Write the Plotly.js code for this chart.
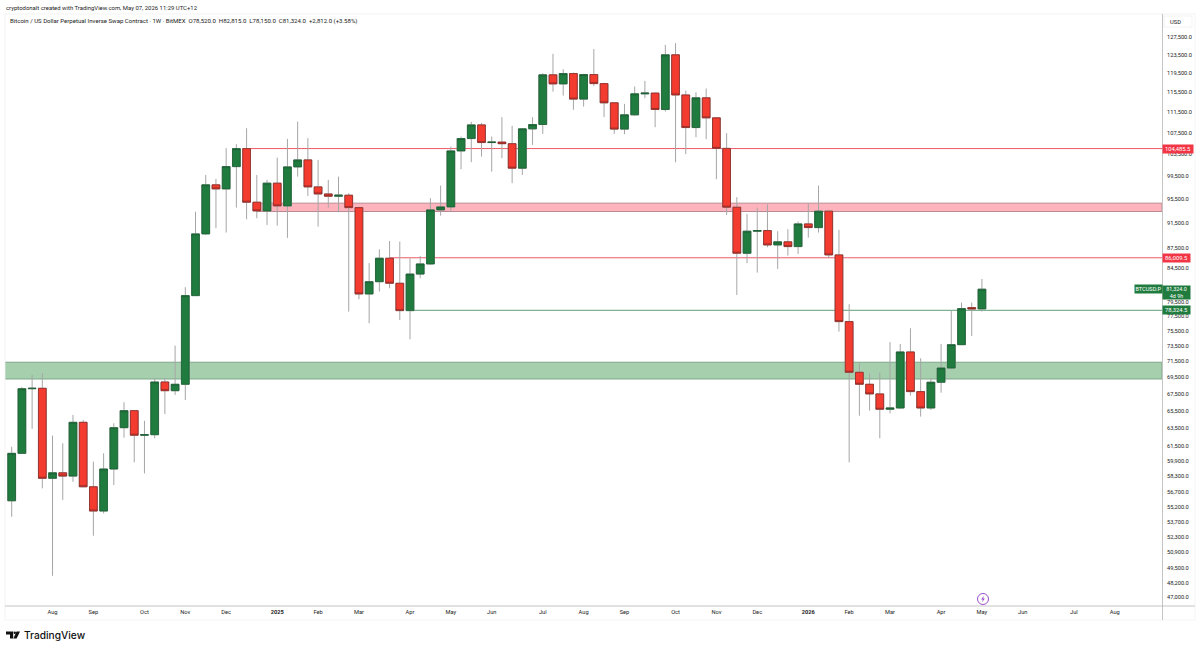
<!DOCTYPE html>
<html>
<head>
<meta charset="utf-8">
<script src="https://cdn.plot.ly/plotly-3.0.1.min.js"></script>
<style>html,body{margin:0;padding:0;background:#fff}#c{width:1200px;height:650px}</style>
</head>
<body>
<div id="c"></div>
<script>
var startDate = '2024-07-08';
var open = [55780,60700,68110,68160,58060,58630,58290,64150,57190,54770,59030,63540,65500,62690,62750,68930,67870,68650,80400,89750,97940,97240,101180,104480,94960,93500,98240,94340,101130,102400,97590,96370,95980,96150,94050,80640,82420,85940,82190,78280,83550,85070,93670,94170,104050,106370,108990,105610,105700,105400,100900,108220,109060,119150,117250,119430,114110,119220,117310,113360,108170,110960,115190,115340,112020,123480,114960,108470,114370,110360,104520,94120,86710,90180,90280,88000,88480,87740,91360,90760,93460,86450,76760,70130,68650,67480,65660,65810,72720,67760,65810,68900,70670,73670,78700,78520];
var high = [61420,68320,69800,70050,62650,61800,64990,64420,59810,60710,64040,66490,65580,64330,69430,69430,73540,81610,93380,99690,98990,104560,105310,108350,99690,98820,102820,106300,109630,106440,102400,98820,99390,96500,94170,85190,87330,88630,88520,85940,86290,95640,97820,104860,106750,109580,109380,106750,110500,108800,108410,110500,119510,123700,120350,119640,119370,124760,117460,113420,113150,116700,117880,115400,125690,126090,115860,115500,116280,110500,107390,95810,93000,94050,94600,90180,90500,91740,94790,97820,93500,90390,79180,71270,70010,70090,74010,73770,75860,71910,69390,73770,78240,79410,79410,82815];
var low = [54220,60650,63400,57030,48800,55850,57700,57130,52410,54540,57360,62420,59740,58570,62350,65110,67360,66760,89590,89590,90660,89960,94050,92120,92280,91190,91080,89110,99390,96030,90920,94050,93280,78140,79880,76550,80980,81460,76990,74380,82930,84950,92710,93380,100710,101980,103000,100280,102710,98240,99690,105170,107260,115650,114830,111950,112610,116830,110500,107260,107200,110760,114310,108540,111610,101980,103450,106630,106250,98930,92830,80490,85180,83760,87640,84320,86340,86600,89160,89960,85940,75400,59740,64910,65500,62350,65190,65700,67280,64800,65580,67630,70510,73670,74820,78150];
var close = [60700,68110,68160,58060,58630,58290,64150,57190,54770,59030,63540,65500,62690,62750,68930,67870,68650,80400,89750,97940,97240,101180,104480,94960,93500,98240,94340,101130,102400,97590,96370,95980,96150,94050,80640,82420,85940,82190,78280,83550,85070,93670,94170,104050,106370,108990,105610,105700,105400,100900,108220,109060,119150,117250,119430,114110,119220,117310,113360,108170,110960,115190,115340,112020,123480,114960,108470,114370,110360,104520,94120,86710,90180,90280,88000,88480,87740,91360,90760,93460,86450,76760,70130,68650,67480,65660,65810,72720,67760,65810,68900,70670,73670,78560,78512,81324];

var priceTicks = [127500,123500,119500,115500,111500,107500,103500,99500,95500,91500,87500,84500,79500,77500,75500,73500,71500,69500,67500,65500,63500,61500,59900,58300,56700,55200,53700,52300,50900,49500,48200,47000];
var timeTickDates = ['2024-08-05','2024-09-02','2024-10-07','2024-11-04','2024-12-02','2025-01-06','2025-02-03','2025-03-03','2025-04-07','2025-05-05','2025-06-02','2025-07-07','2025-08-04','2025-09-01','2025-10-06','2025-11-03','2025-12-01','2026-01-05','2026-02-02','2026-03-02','2026-04-06','2026-05-04','2026-06-01','2026-07-06','2026-08-03'];
var timeTickLabels = ['Aug','Sep','Oct','Nov','Dec','<b>2025</b>','Feb','Mar','Apr','May','Jun','Jul','Aug','Sep','Oct','Nov','Dec','<b>2026</b>','Feb','Mar','Apr','May','Jun','Jul','Aug'];

var levelValues = [104485.5,86009.5,78324.5];
var levelStarts = ['2024-12-16','2025-03-24','2025-04-07'];
var levelColors = ['#ee5a68','#ee5a68','#5f9f74'];
var zoneLows = [93400,69300];
var zoneHighs = [94800,71400];
var zoneStarts = ['2024-12-23','2024-07-03'];
var zoneFills = ['#ffb3bd','#a6cfae'];
var zoneEdges = ['#b98a92','#7ea78b'];

var rangeStart = '2024-07-03 10:00';
var rangeEnd = '2026-09-04 10:00';
var FONT = 'Roboto, "Open Sans", sans-serif';
var UP = '#1f7b3e', DOWN = '#f43b30';

var dates = open.map(function(_, i){
  var d = new Date(startDate + 'T00:00:00Z');
  d.setUTCDate(d.getUTCDate() + 7 * i);
  return d.toISOString().slice(0, 10);
});
var top_ = open.map(function(o, i){ return Math.max(o, close[i]); });
var bot_ = open.map(function(o, i){ return Math.min(o, close[i]); });

var wicks = {
  type: 'candlestick', x: dates, open: open, high: high, low: low, close: close,
  whiskerwidth: 0, hoverinfo: 'skip', showlegend: false,
  increasing: {line: {color: '#a6a6a6', width: 1}, fillcolor: '#a6a6a6'},
  decreasing: {line: {color: '#a6a6a6', width: 1}, fillcolor: '#a6a6a6'}
};
var bodies = {
  type: 'candlestick', x: dates, open: open, high: top_, low: bot_, close: close,
  whiskerwidth: 0, showlegend: false,
  increasing: {line: {color: '#1d5f35', width: 0.8}, fillcolor: UP},
  decreasing: {line: {color: '#8a2a24', width: 0.8}, fillcolor: DOWN}
};

function px(x){ return (x - 5) / 1157; }
function py(y){ return (606 - y) / 592; }
function rectPaper(x0, y0, x1, y1, fill, edge){
  return {type:'rect', xref:'paper', yref:'paper', x0:px(x0), x1:px(x1), y0:py(y0), y1:py(y1),
    fillcolor:fill, line:{color:edge||fill, width:edge?0.8:0}, layer:'above'};
}
function linePaper(x0, y0, x1, y1, c, w){
  return {type:'line', xref:'paper', yref:'paper', x0:px(x0), x1:px(x1), y0:py(y0), y1:py(y1),
    line:{color:c, width:w||1}, layer:'above'};
}
function pathPaper(pts, fill){
  var s = pts.map(function(p, i){ return (i ? 'L' : 'M') + px(p[0]) + ',' + py(p[1]); }).join(' ') + ' Z';
  return {type:'path', xref:'paper', yref:'paper', path:s, fillcolor:fill, line:{width:0}, layer:'above'};
}

var shapes = [];
zoneLows.forEach(function(v, i){
  shapes.push({type:'rect', xref:'x', yref:'y', x0:zoneStarts[i], x1:rangeEnd, y0:v, y1:zoneHighs[i],
    fillcolor:zoneFills[i], line:{color:zoneEdges[i], width:1}, layer:'below'});
});
levelValues.forEach(function(v, i){
  shapes.push({type:'line', xref:'x', yref:'y', x0:levelStarts[i], x1:rangeEnd, y0:v, y1:v,
    line:{color:levelColors[i], width:1}, layer:'below'});
});
/* frame */
shapes.push(linePaper(5, 14, 1195, 14, '#f0f0f0', 0.8));
shapes.push(linePaper(5, 14, 5, 620, '#f0f0f0', 0.8));
shapes.push(linePaper(5, 620, 1195, 620, '#f2f2f2', 0.8));
shapes.push(linePaper(1195, 14, 1195, 620, '#f2f2f2', 0.8));
shapes.push(linePaper(5, 606, 1195, 606, '#b5b5b5', 0.8));
shapes.push(linePaper(1162.5, 14, 1162.5, 620, '#b5b5b5', 0.8));
/* USD box */
shapes.push(rectPaper(1164, 16, 1192, 27, '#ffffff', '#f0f0f0'));
/* TradingView mark */
shapes.push(pathPaper([[6,631.5],[13.2,631.5],[13.2,638.5],[10,638.5],[10,634.5],[6,634.5]], '#111'));
shapes.push({type:'circle', xref:'paper', yref:'paper', x0:px(13.6), x1:px(16), y0:py(631.5), y1:py(634), fillcolor:'#111', line:{width:0}, layer:'above'});
shapes.push(pathPaper([[16.5,631.5],[20,631.5],[16.6,638.5],[13.4,638.5]], '#111'));
/* purple event icon */
shapes.push({type:'circle', xref:'paper', yref:'paper', x0:px(977.5), x1:px(988.5), y0:py(593.5), y1:py(604.5), fillcolor:'#fff', line:{color:'#9c4dcc', width:1}, layer:'above'});
shapes.push(pathPaper([[983.8,595.8],[981.2,599.4],[982.8,599.4],[982.2,602.2],[984.8,598.4],[983.2,598.4]], '#9c4dcc'));

function note(text, x, y, size, color, opts){
  var a = {text:text, xref:'paper', yref:'paper', x:px(x), y:py(y), xanchor:'left', yanchor:'middle',
    showarrow:false, font:{family:FONT, size:size, color:color}, borderpad:0};
  for (var k in opts||{}) a[k] = opts[k];
  return a;
}
function priceTag(text, value, bg, tagLeft, tagRight){
  return {text:text, xref:'paper', yref:'y', x:px((tagLeft + tagRight) / 2), y:Math.log10(value),
    xanchor:'center', yanchor:'middle', showarrow:false, width:tagRight - tagLeft, height:8, bgcolor:bg,
    align:'center', borderpad:0, font:{family:FONT, size:5.8, color:'#ffffff'}};
}
var annotations = [
  note('cryptodonalt created with TradingView.com, May 07, 2026 11:29 UTC+12', 5, 7.5, 5.95, '#222'),
  note('Bitcoin / US Dollar Perpetual Inverse Swap Contract · 1W · BitMEX  O78,520.0  H82,815.0  L78,150.0  C81,324.0  +2,812.0 (+3.58%)', 9, 21, 6.05, '#222'),
  note('USD', 1169, 21.5, 5.8, '#222'),
  note('TradingView', 23, 635, 10.2, '#111', {font:{family:'Inter, Roboto, sans-serif', size:10.2, color:'#111', weight:500}}),
  priceTag('104,485.5', 104485.5, '#f23645', 1163, 1193),
  priceTag('86,009.5', 86009.5, '#f23645', 1163, 1190),
  priceTag('78,324.5', 78324.5, '#1f7b3e', 1163, 1190),
  {text:'81,324.0<br>4d 9h', xref:'paper', yref:'y', x:px(1176.5), y:Math.log10(80880), xanchor:'center', yanchor:'middle',
   showarrow:false, width:27, height:13, bgcolor:'#1f7b3e', align:'center', borderpad:0,
   font:{family:FONT, size:5.4, color:'#ffffff'}},
  {text:'BTCUSD.P', xref:'paper', yref:'y', x:px(1148.5), y:Math.log10(81324), xanchor:'center', yanchor:'middle',
   showarrow:false, width:27, height:7.5, bgcolor:'#1f7b3e', align:'center', borderpad:0,
   font:{family:FONT, size:5.6, color:'#ffffff'}}
];

var layout = {
  width:1200, height:650, paper_bgcolor:'#ffffff', plot_bgcolor:'#ffffff',
  margin:{l:5, r:38, t:14, b:44, pad:0},
  showlegend:false, dragmode:false, boxgap:0.24, boxgroupgap:0,
  font:{family:FONT, size:5.7, color:'#222'},
  xaxis:{type:'date', range:[rangeStart, rangeEnd], rangeslider:{visible:false}, showgrid:false, zeroline:false,
    tickmode:'array', tickvals:timeTickDates, ticktext:timeTickLabels, ticks:'', showline:false,
    tickangle:0, tickfont:{family:FONT, size:5.7, color:'#222'}, ticklabelstandoff:1},
  yaxis:{type:'log', side:'right', range:[Math.log10(46243), Math.log10(132800)], showgrid:false, zeroline:false,
    tickmode:'array', tickvals:priceTicks, tickformat:',.1f', ticks:'', showline:false,
    tickfont:{family:FONT, size:5.7, color:'#222'}, ticklabelstandoff:4},
  shapes:shapes, annotations:annotations
};
Plotly.newPlot('c', [wicks, bodies], layout, {displayModeBar:false, staticPlot:true});
</script>
</body>
</html>
